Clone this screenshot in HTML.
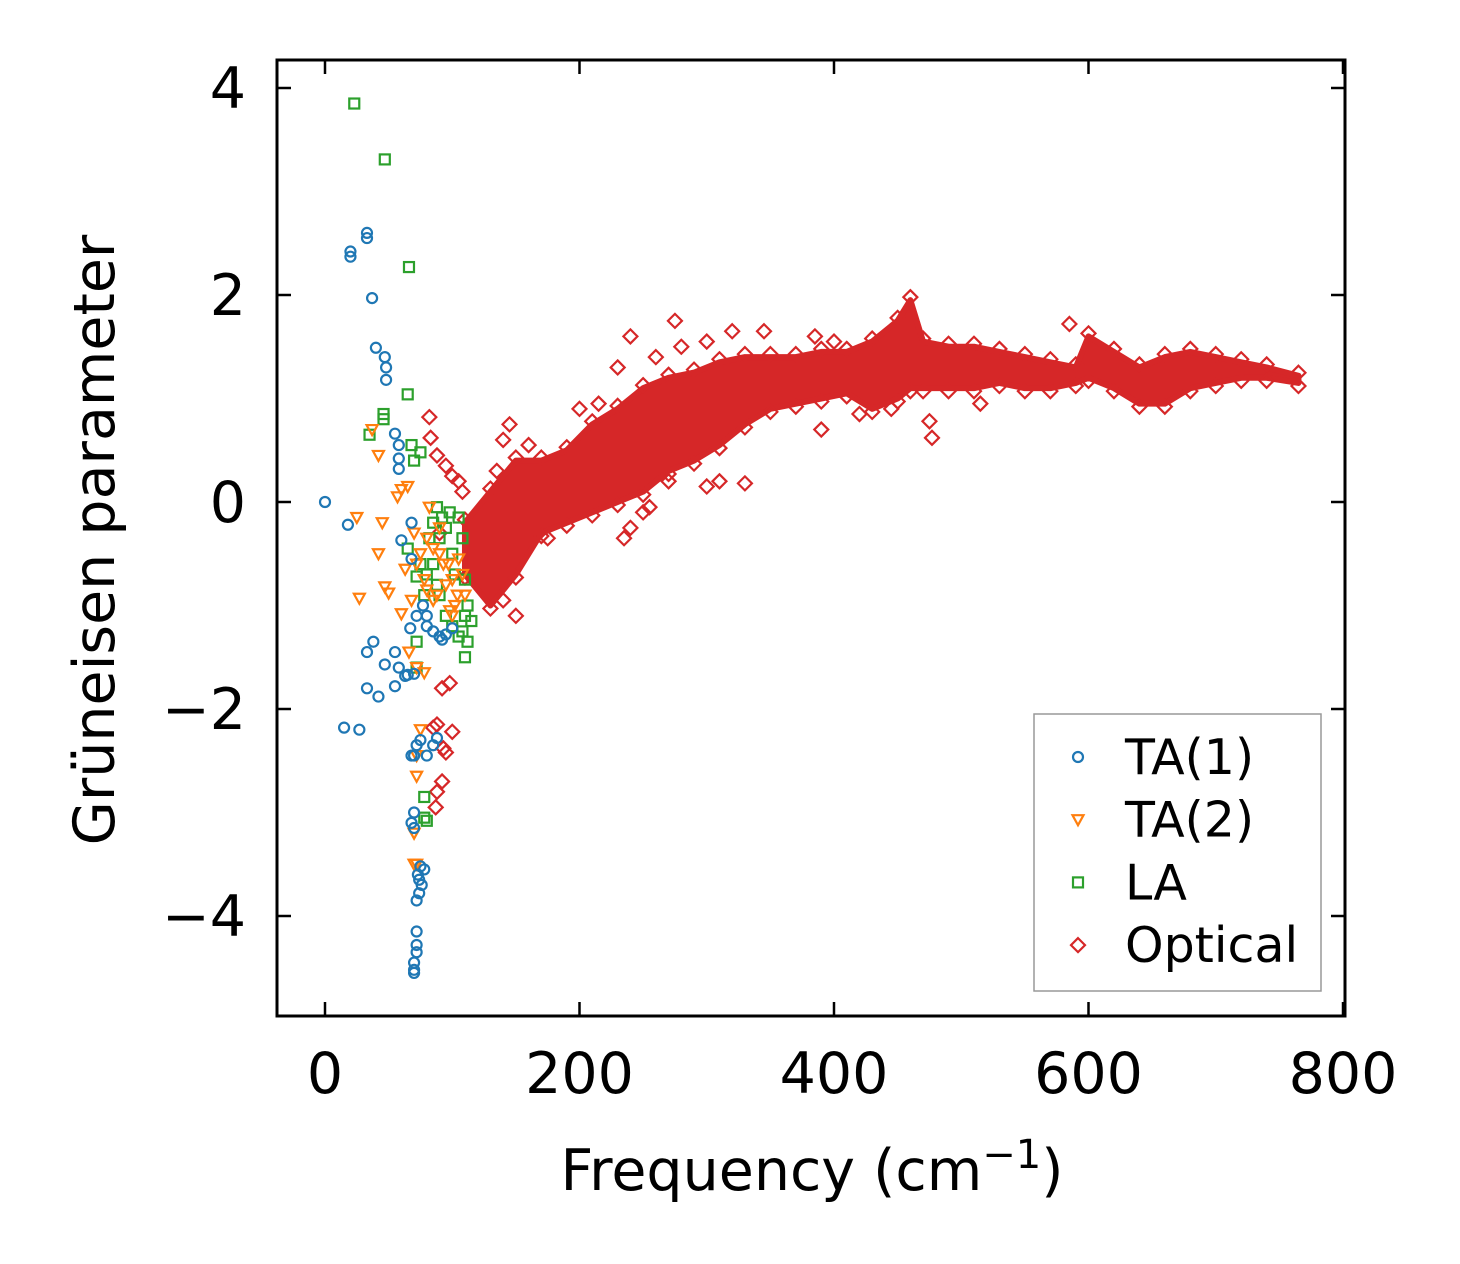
<!DOCTYPE html>
<html><head><meta charset="utf-8"><style>
html,body{margin:0;padding:0;background:#fff;}
svg{display:block;font-family:"DejaVu Sans","Liberation Sans",sans-serif;}
</style></head><body>
<svg id="chart" width="1460" height="1264" viewBox="0 0 1460 1264" xmlns="http://www.w3.org/2000/svg">
<g id="plot"></g>
<g id="axes"></g>
<g id="legend"></g>
</svg>
<script>
const xTicks=[0,200,400,600,800];
const yTicks=[4,2,0,-2,-4];
const yTickLabels=["4","2","0","\u22122","\u22124"];
const ta1X=[0,18,20,20,33,33,37,40,47,48,48,55,58,58,58,60,68,68,15,27,33,33,38,42,47,55,55,58,63,67,70,72,77,80,85,90,95,100,92,70,72,75,80,85,88,70,68,70,75,78,76,74,72,72,72,72,70,70,70,73,74,68,65,80];
const ta1Y=[0,-0.22,2.37,2.42,2.55,2.6,1.97,1.49,1.4,1.3,1.18,0.66,0.55,0.42,0.32,-0.37,-0.2,-0.55,-2.18,-2.2,-1.45,-1.8,-1.35,-1.88,-1.57,-1.45,-1.78,-1.6,-1.68,-1.22,-1.66,-1.1,-1.0,-1.2,-1.25,-1.3,-1.28,-1.22,-1.33,-2.45,-2.35,-2.3,-2.45,-2.35,-2.28,-3.0,-3.1,-3.15,-3.52,-3.55,-3.7,-3.78,-3.85,-4.15,-4.28,-4.35,-4.45,-4.55,-4.52,-3.6,-3.65,-2.45,-1.67,-1.1];
const ta2X=[25,27,37,42,42,45,47,50,57,60,63,65,60,68,70,72,75,78,80,82,85,88,90,95,97,100,102,104,105,108,110,98,93,66,72,78,75,72,72,70,70,72,80,85,90,100];
const ta2Y=[-0.15,-0.93,0.7,0.45,-0.5,-0.2,-0.82,-0.88,0.05,0.12,-0.65,0.15,-1.08,-0.95,-0.3,-0.6,-0.5,-0.75,-0.85,-0.05,-0.95,-0.9,-0.25,-0.8,-0.6,-0.75,-1.0,-0.9,-0.55,-0.7,-0.9,-1.05,-0.6,-1.45,-1.6,-1.65,-2.2,-2.45,-2.65,-3.2,-3.5,-3.5,-0.35,-0.45,-0.5,-1.1];
const laX=[23,47,66,65,46,46,35,68,75,70,65,72,75,78,80,82,85,88,90,92,95,98,100,102,105,108,110,112,110,108,110,112,115,105,100,95,90,72,72,78,78,80,85,88];
const laY=[3.85,3.31,2.27,1.04,0.85,0.8,0.65,0.55,0.48,0.4,-0.45,-0.72,-0.6,-0.9,-0.7,-0.35,-0.2,-0.05,-0.35,-0.15,-0.25,-0.1,-0.5,-0.7,-0.15,-0.35,-0.75,-1.0,-1.1,-1.25,-1.5,-1.35,-1.15,-1.3,-1.2,-1.1,-0.9,-1.35,-1.6,-2.85,-3.05,-3.08,-0.6,-0.8];
const bandX=[110,130,150,170,190,210,230,250,270,290,310,330,350,370,390,410,430,450,460,470,490,510,530,550,570,590,600,620,640,660,680,700,720,740,765];
const bandLo=[-0.7,-1.0,-0.7,-0.3,-0.2,-0.1,0.0,0.1,0.3,0.4,0.55,0.75,0.9,0.95,1.0,1.05,0.9,1.0,1.1,1.1,1.1,1.1,1.15,1.1,1.1,1.15,1.2,1.1,0.95,0.95,1.1,1.15,1.2,1.2,1.15];
const bandHi=[-0.2,0.1,0.4,0.4,0.5,0.75,0.9,1.1,1.2,1.25,1.35,1.4,1.4,1.4,1.45,1.45,1.55,1.75,1.95,1.55,1.5,1.5,1.45,1.4,1.35,1.3,1.6,1.45,1.3,1.4,1.45,1.4,1.35,1.3,1.22];
const optX=[82,83,88,95,100,105,108,90,92,98,85,88,100,93,95,92,88,87,140,145,135,140,150,175,200,230,240,275,280,300,320,345,385,400,390,330,300,310,235,240,270,250,255,420,445,475,477,515,585,160,215,260];
const optY=[0.82,0.62,0.45,0.35,0.25,0.2,0.1,-0.3,-1.8,-1.75,-2.18,-2.15,-2.22,-2.38,-2.42,-2.7,-2.8,-2.95,0.6,0.75,0.3,-0.95,-1.1,-0.35,0.9,1.3,1.6,1.75,1.5,1.55,1.65,1.65,1.6,1.55,0.7,0.18,0.15,0.2,-0.35,-0.25,0.2,-0.1,-0.05,0.85,0.9,0.78,0.62,0.95,1.72,0.55,0.95,1.4];

const L=277,R=1345,T=60,B=1016;
const sx=v=>325+v*(1343-325)/800;
const sy=v=>502-v*103.5;
const NS="http://www.w3.org/2000/svg";
function mk(tag,parent,attrs){const e=document.createElementNS(NS,tag);for(const k in attrs)e.setAttribute(k,attrs[k]);parent.appendChild(e);return e;}
const plot=document.getElementById('plot'),axes=document.getElementById('axes'),leg=document.getElementById('legend');
const BLUE="#1f77b4",ORANGE="#ff7f0e",GREEN="#2ca02c",RED="#d62728";
function circle(g,x,y,c){return mk('circle',g,{cx:x,cy:y,r:5,fill:'none',stroke:c,'stroke-width':2.2});}
function tri(g,x,y,c){return mk('path',g,{d:`M${x-5.5},${y-4.5}L${x+5.5},${y-4.5}L${x},${y+5.5}Z`,fill:'none',stroke:c,'stroke-width':2.2});}
function sq(g,x,y,c){return mk('rect',g,{x:x-5,y:y-5,width:10,height:10,fill:'none',stroke:c,'stroke-width':2.2});}
function dia(g,x,y,c){return mk('path',g,{d:`M${x},${y-7}L${x+7},${y}L${x},${y+7}L${x-7},${y}Z`,fill:'none',stroke:c,'stroke-width':2.2});}

let d='';
bandX.forEach((x,i)=>{d+=(i?'L':'M')+sx(x)+','+sy(bandHi[i]);});
for(let i=bandX.length-1;i>=0;i--)d+='L'+sx(bandX[i])+','+sy(bandLo[i]);
d+='Z';
const band=mk('path',plot,{d:d,fill:RED,stroke:RED,'stroke-width':6,'stroke-linejoin':'round'});


bandX.forEach((x,i)=>{
  const a=dia(plot,sx(x),sy(bandHi[i])-3,RED);
  
  
  const b=dia(plot,sx(x),sy(bandLo[i])+3,RED);
  
  
});
optX.forEach((x,i)=>{const e=dia(plot,sx(x),sy(optY[i]),RED);
  
  });
laX.forEach((x,i)=>{const e=sq(plot,sx(x),sy(laY[i]),GREEN);
  
  });
ta2X.forEach((x,i)=>{const e=tri(plot,sx(x),sy(ta2Y[i]),ORANGE);
  
  });
ta1X.forEach((x,i)=>{const e=circle(plot,sx(x),sy(ta1Y[i]),BLUE);
  
  });

const fr=mk('rect',axes,{x:L,y:T,width:R-L,height:B-T,fill:'none',stroke:'#000','stroke-width':3});


xTicks.forEach(v=>{const x=sx(v);
  mk('line',axes,{x1:x,x2:x,y1:B,y2:B-14,stroke:'#000','stroke-width':2.5});
  mk('line',axes,{x1:x,x2:x,y1:T,y2:T+14,stroke:'#000','stroke-width':2.5});
  const t=mk('text',axes,{x:x,y:1093,'font-size':57,'text-anchor':'middle'});t.textContent=v;
  
  
});
yTicks.forEach((v,i)=>{const y=sy(v);
  mk('line',axes,{x1:L,x2:L+14,y1:y,y2:y,stroke:'#000','stroke-width':2.5});
  mk('line',axes,{x1:R,x2:R-14,y1:y,y2:y,stroke:'#000','stroke-width':2.5});
  const t=mk('text',axes,{x:246,y:y+20,'font-size':57,'text-anchor':'end'});t.textContent=yTickLabels[i];
  
  
});
const xl=mk('text',axes,{x:812,y:1190,'font-size':57,'text-anchor':'middle'});
xl.innerHTML='Frequency (cm<tspan dy="-22" font-size="40">\u22121</tspan><tspan dy="22">)</tspan>';


const yl=mk('text',axes,{x:0,y:0,'font-size':57,'text-anchor':'middle',transform:'translate(114,540) rotate(-90)'});
yl.textContent='Grüneisen parameter';



const lb=mk('rect',leg,{x:1034,y:714,width:287,height:277,fill:'#fff',stroke:'#999','stroke-width':1.5});


const names=['TA(1)','TA(2)','LA','Optical'];
const fns=[circle,tri,sq,dia],cols=[BLUE,ORANGE,GREEN,RED];
names.forEach((n,i)=>{const y=757+i*62.7;
  const g=mk('g',leg,{});
  
  
  fns[i](g,1078,y,cols[i]);
  const t=mk('text',g,{x:1125,y:y+17,'font-size':49});t.textContent=n;
});
</script>
</body></html>
